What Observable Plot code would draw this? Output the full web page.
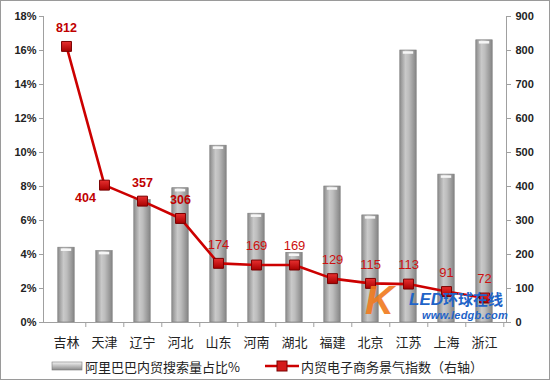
<!DOCTYPE html>
<html>
<head>
<meta charset="utf-8">
<script src="https://cdn.jsdelivr.net/npm/d3@7"></script>
<script src="https://cdn.jsdelivr.net/npm/@observablehq/plot@0.6"></script>
<style>
  html, body { margin: 0; padding: 0; background: #fff; }
  #wrap {
    position: relative; width: 548px; height: 378px;
    border: 1px solid #9a9a9a; background: #fff; overflow: hidden;
    font-family: "Liberation Sans", Arial, "Noto Sans CJK SC", sans-serif;
  }
  #legend {
    position: absolute; left: 0; top: 354px; width: 548px; height: 22px;
    font-family: "Noto Sans CJK SC", sans-serif; font-size: 13px; color: #222;
  }
  .li { position: absolute; top: 0; display: flex; align-items: center; height: 22px; }
  #wm { position: absolute; left: 364px; top: 290px; width: 145px; height: 36px; pointer-events: none; }
  #wm .k { position: absolute; left: 0; top: -14px; font: italic bold 40px/46px "Liberation Sans", Arial, sans-serif; color: #f07a1e; opacity: 0.9; }
  #wm .t1 { position: absolute; left: 44px; top: 0px; height: 16px; white-space: nowrap; font: italic bold 17px/16px "Liberation Sans", Arial, sans-serif; color: #1f64c8; }
  #wm .t1 span { font: bold 15px/16px "Noto Sans CJK SC", sans-serif; font-style: normal; }
  #wm .t2 { position: absolute; left: 57px; top: 18px; height: 12px; white-space: nowrap; font: italic bold 11px/12px "Liberation Sans", Arial, sans-serif; color: #1f64c8; letter-spacing: 0.2px; }
</style>
</head>
<body>
<div id="wrap">
  <div id="chart"></div>
  <div id="legend"></div>
  <div id="wm">
    <div class="k">K</div>
    <div class="t1">LED<span>环球在线</span></div>
    <div class="t2">www.ledgb.com</div>
  </div>
</div>
<script>
const categories = ["吉林","天津","辽宁","河北","山东","河南","湖北","福建","北京","江苏","上海","浙江"];
const searchShare = [4.4, 4.2, 7.2, 7.9, 10.4, 6.4, 4.1, 8.0, 6.3, 16.0, 8.7, 16.6];
const indexValues = [812, 404, 357, 306, 174, 169, 169, 129, 115, 113, 91, 72];
const leftTicks = [0, 2, 4, 6, 8, 10, 12, 14, 16, 18];
const rightTicks = [0, 100, 200, 300, 400, 500, 600, 700, 800, 900];
const seriesNames = ["阿里巴巴内贸搜索量占比%", "内贸电子商务景气指数（右轴）"];

const leftMax = 18, rightMax = 900;
const toLeft = v => v * leftMax / rightMax;

const data = categories.map((c, i) => ({cat: c, share: searchShare[i], idx: indexValues[i], i}));

const W = 548, H = 350, ML = 42, MR = 43, MT = 15, MB = 29;
const step = (W - ML - MR) / categories.length;
const barInset = (step - 17) / 2;

const axisColor = "#a0a0a0";
const plot = Plot.plot({
  width: W, height: H,
  marginLeft: ML, marginRight: MR, marginTop: MT, marginBottom: MB,
  style: {fontFamily: '"Liberation Sans", Arial, "Noto Sans CJK SC", sans-serif', background: "#fff"},
  x: {domain: categories, padding: 0},
  y: {domain: [0, leftMax]},
  marks: [
    Plot.barY(data, {x: "cat", y: "share", fill: "url(#barGrad)", stroke: "#7a7a7a", strokeWidth: 0.6,
      insetLeft: barInset, insetRight: barInset}),
    Plot.tickY(data, {x: "cat", y: "share", stroke: "#f6f6f6", strokeWidth: 2.5, dy: 2,
      insetLeft: barInset + 3, insetRight: barInset + 3}),
    Plot.frame({anchor: "left", stroke: axisColor}),
    Plot.frame({anchor: "right", stroke: axisColor}),
    Plot.frame({anchor: "bottom", stroke: axisColor}),
    Plot.axisY(leftTicks, {anchor: "left", tickSize: 4, tickPadding: 3, stroke: axisColor,
      tickFormat: d => d + "%", fontSize: 11, fontWeight: "bold", fill: "#222", label: null}),
    Plot.axisY(rightTicks.map(toLeft), {anchor: "right", tickSize: 4, tickPadding: 5, stroke: axisColor,
      tickFormat: d => String(Math.round(d * rightMax / leftMax)), fontSize: 11, fontWeight: "bold", fill: "#222", label: null}),
    Plot.axisX({tickSize: 0, tickPadding: 15, fontSize: 13, fill: "#222", label: null,
      fontFamily: '"Noto Sans CJK SC", sans-serif'}),
    Plot.axisX({tickSize: 5, dx: step / 2, tickFormat: () => "", stroke: axisColor, label: null}),
    Plot.line(data, {x: "cat", y: d => toLeft(d.idx), stroke: "#cc0000", strokeWidth: 2.6}),
    Plot.dot(data, {x: "cat", y: d => toLeft(d.idx), symbol: "square", r: 5.6,
      fill: "url(#mkGrad)", stroke: "#7a0000", strokeWidth: 1}),
    Plot.text(data.filter(d => d.i < 4 && d.i !== 1), {x: "cat", y: d => toLeft(d.idx), text: d => String(d.idx),
      dy: -18, fill: "#c00000", fontSize: 12.5, fontWeight: "bold"}),
    Plot.text(data.filter(d => d.i === 1), {x: "cat", y: d => toLeft(d.idx), text: d => String(d.idx),
      dx: -19, dy: 13, fill: "#c00000", fontSize: 12.5, fontWeight: "bold"}),
    Plot.text(data.filter(d => d.i >= 4), {x: "cat", y: d => toLeft(d.idx), text: d => String(d.idx),
      dy: -19, fill: "#cc1010", fontSize: 13, fontWeight: "normal"})
  ]
});

// gradients for the cylinder-like bars and markers
const defs = d3.select(plot).insert("defs", ":first-child");
const g = defs.append("linearGradient").attr("id", "barGrad").attr("x1", 0).attr("x2", 1).attr("y1", 0).attr("y2", 0);
[[0, "#8c8c8c"], [0.35, "#c9c9c9"], [0.55, "#bdbdbd"], [1, "#858585"]].forEach(([o, c]) =>
  g.append("stop").attr("offset", o).attr("stop-color", c));
const m = defs.append("linearGradient").attr("id", "mkGrad").attr("x1", 0).attr("x2", 0).attr("y1", 0).attr("y2", 1);
[[0, "#e83030"], [1, "#a80000"]].forEach(([o, c]) => m.append("stop").attr("offset", o).attr("stop-color", c));

document.getElementById("chart").appendChild(plot);

// legend
const legend = d3.select("#legend");
const l1 = legend.append("div").attr("class", "li").style("left", "50px");
const s1 = l1.append("svg").attr("width", 32).attr("height", 12);
const lg = s1.append("defs").append("linearGradient").attr("id", "legGrad").attr("x1", 0).attr("x2", 0).attr("y1", 0).attr("y2", 1);
[[0, "#f4f4f4"], [0.4, "#c8c8c8"], [1, "#8a8a8a"]].forEach(([o, c]) => lg.append("stop").attr("offset", o).attr("stop-color", c));
s1.append("rect").attr("x", 1).attr("y", 2).attr("width", 30).attr("height", 8).attr("fill", "url(#legGrad)").attr("stroke", "#7a7a7a").attr("stroke-width", 0.6);
l1.append("span").style("margin-left", "2px").text(seriesNames[0]);

const l2 = legend.append("div").attr("class", "li").style("left", "264px");
const s2 = l2.append("svg").attr("width", 34).attr("height", 12);
s2.append("line").attr("x1", 0).attr("x2", 34).attr("y1", 6).attr("y2", 6).attr("stroke", "#cc0000").attr("stroke-width", 2.6);
s2.append("rect").attr("x", 12).attr("y", 1).attr("width", 10).attr("height", 10).attr("fill", "#d41a1a").attr("stroke", "#7a0000");
l2.append("span").style("margin-left", "2px").text(seriesNames[1]);
</script>
</body>
</html>
